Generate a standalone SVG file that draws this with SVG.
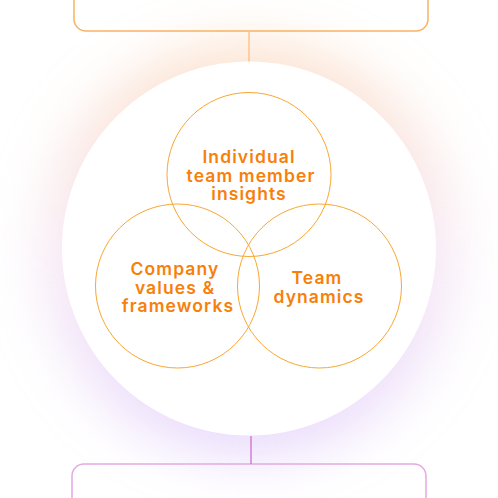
<svg xmlns="http://www.w3.org/2000/svg" width="498" height="498" viewBox="0 0 498 498">
<defs>
<linearGradient id="glowGrad" x1="0" y1="0" x2="0" y2="1">
<stop offset="0" stop-color="#fbd3b0"/>
<stop offset="0.5" stop-color="#f3dcef"/>
<stop offset="1" stop-color="#dcc6fb"/>
</linearGradient>
<filter id="blur" x="-50%" y="-50%" width="200%" height="200%">
<feGaussianBlur stdDeviation="28"/>
</filter>
<style>
.venn{fill:none;stroke:#f8a733;stroke-width:1}
.lbl{font-family:Inter,"Noto Sans",sans-serif;font-weight:600;font-size:17.5px;letter-spacing:1.1px;fill:#f77f0a;text-anchor:middle}
.topb{fill:none;stroke:#f8b365;stroke-width:1.5}
.botb{fill:none;stroke:#e4a9e3;stroke-width:1.5}
</style>
</defs>
<rect width="498" height="498" fill="#ffffff"/>
<circle cx="249" cy="250" r="205" fill="url(#glowGrad)" filter="url(#blur)" opacity="0.7"/>
<g id="connectors">
<path class="topb" d="M74 0 V19 A12 12 0 0 0 86 31 H416 A12 12 0 0 0 428 19 V0"/>
<line x1="249" y1="31" x2="249" y2="62" stroke="#fdc48a" stroke-width="1.5"/>
<path class="botb" d="M72 498 V476 A12 12 0 0 1 84 464 H414 A12 12 0 0 1 426 476 V498"/>
<line x1="251" y1="436" x2="251" y2="464" stroke="#c766c6" stroke-width="1.2"/>
</g>
<g id="outer">
<circle cx="249" cy="248.5" r="187" fill="#ffffff"/>
</g>
<g id="node-individual">
<circle class="venn" cx="249" cy="174.5" r="82"/>
<text class="lbl" x="249" y="163">Individual</text>
<text class="lbl" x="251" y="181.5">team member</text>
<text class="lbl" x="249" y="200">insights</text>
</g>
<g id="node-company">
<circle class="venn" cx="177.5" cy="286" r="82"/>
<text class="lbl" x="175" y="275">Company</text>
<text class="lbl" x="175" y="293.5">values &amp;</text>
<text class="lbl" x="178" y="312">frameworks</text>
</g>
<g id="node-team">
<circle class="venn" cx="319.5" cy="286" r="82"/>
<text class="lbl" x="317" y="284">Team</text>
<text class="lbl" x="319" y="302.5">dynamics</text>
</g>
</svg>
